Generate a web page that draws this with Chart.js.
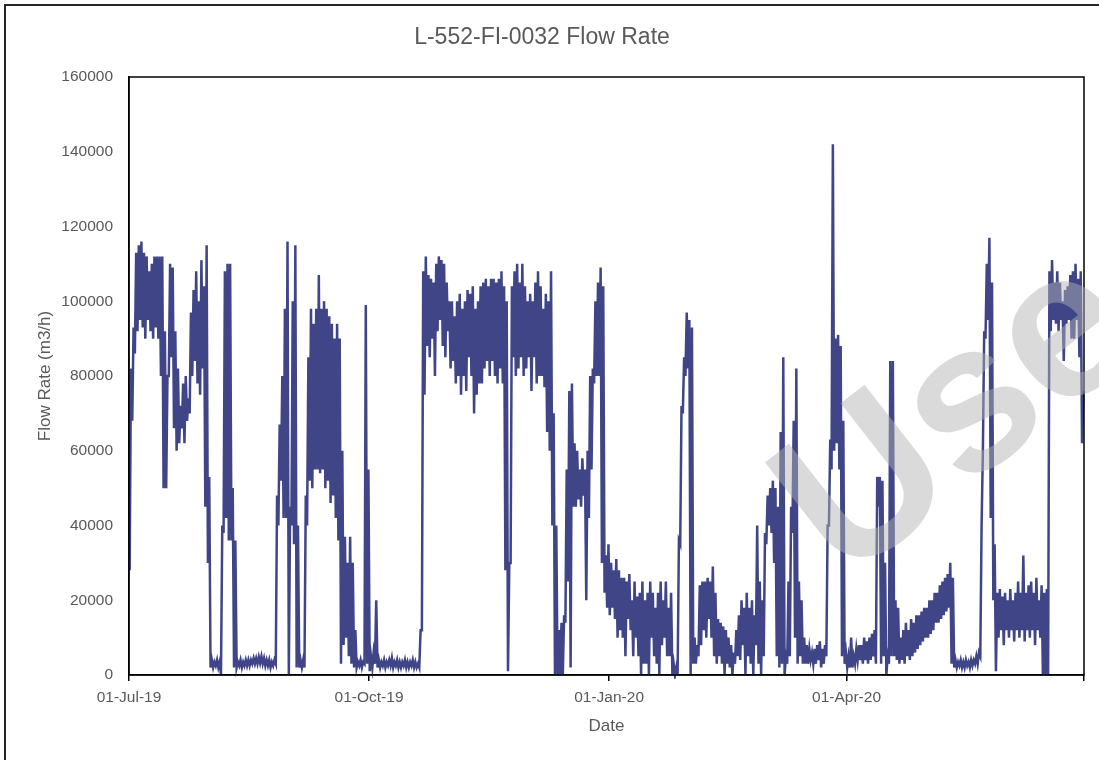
<!DOCTYPE html>
<html>
<head>
<meta charset="utf-8">
<title>L-552-FI-0032 Flow Rate</title>
<script src="https://cdn.jsdelivr.net/npm/chart.js@4.4.1/dist/chart.umd.min.js"></script>
<style>
  html, body { margin: 0; padding: 0; background: #fff; }
  #flowChart { display: block; }
</style>
</head>
<body>
<canvas id="flowChart" width="1099" height="760"></canvas>
<script>
// x axis: days since 01-Jul-19
const tickDays = [0, 92, 184, 275, 366];
const tickLabels = ['01-Jul-19', '01-Oct-19', '01-Jan-20', '01-Apr-20', ''];
const yTicks = [0, 20000, 40000, 60000, 80000, 100000, 120000, 140000, 160000];

// daily low / high readings (m3/h), day 0 = 01-Jul-19
const dailyLow = [
  28000, 68000, 86000, 92000, 95000, 93000, 90000, 95000, 92000, 90000,   // 0
  93000, 90000, 80000, 50000, 50000, 80000, 85000, 66000, 60000, 62000,   // 10
  66000, 62000, 68000, 70000, 80000, 84000, 78000, 75000, 82000, 45000,   // 20
  30000, 2000, 2000, 2500, 2000, 0, 38000, 42000, 36000, 36000,           // 30
  2000, 2000, 2500, 2000, 2500, 2500, 2500, 3000, 3000, 3000,             // 40
  3200, 3000, 2500, 2500, 2000, 2500, 3000, 40000, 52000, 42000,          // 50
  42000, 0, 40000, 35000, 2000, 2000, 2000, 2000, 40000, 52000,           // 60
  50000, 55000, 55000, 54000, 55000, 50000, 52000, 46000, 48000, 42000,   // 70
  36000, 3000, 8000, 10000, 5000, 3000, 2000, 2000, 2500, 2000,           // 80
  3000, 3000, 1000, 2000, 3000, 2000, 2000, 2500, 2000, 2500,             // 90
  2500, 2000, 2500, 2000, 2000, 2500, 2000, 2000, 2500, 2000,             // 100
  2000, 2000, 12000, 75000, 88000, 85000, 90000, 80000, 92000, 95000,     // 110
  88000, 85000, 92000, 82000, 84000, 78000, 80000, 75000, 80000, 76000,   // 120
  85000, 80000, 70000, 75000, 78000, 78000, 82000, 84000, 80000, 84000,   // 130
  80000, 78000, 82000, 78000, 28000, 1000, 30000, 85000, 80000, 82000,    // 140
  85000, 80000, 82000, 85000, 76000, 85000, 78000, 80000, 80000, 77000,   // 150
  65000, 60000, 40000, 0, 0, 0, 0, 14000, 25000, 2000,                    // 160
  45000, 45000, 47000, 45000, 48000, 20000, 42000, 55000, 78000, 80000,   // 170
  80000, 30000, 22000, 18000, 16000, 18000, 15000, 10000, 12000, 10000,   // 180
  5000, 15000, 12000, 5000, 10000, 5000, 0, 3000, 3000, 0,                // 190
  10000, 5000, 3000, 0, 8000, 10000, 5000, 5000, 0, 0,                    // 200
  0, 35000, 70000, 80000, 82000, 0, 3000, 3000, 5000, 8000,               // 210
  12000, 10000, 15000, 10000, 5000, 3000, 5000, 3000, 0, 3000,            // 220
  2000, 0, 3000, 5000, 4000, 8000, 0, 5000, 3000, 0,                      // 230
  8000, 3000, 0, 5000, 35000, 40000, 38000, 30000, 5000, 2000,            // 240
  3000, 0, 3000, 5000, 38000, 10000, 3000, 5000, 3000, 3000,              // 250
  3000, 4000, 3000, 3000, 4000, 2000, 3000, 5000, 40000, 55000,           // 260
  60000, 62000, 55000, 5000, 3000, 2000, 2000, 2000, 3000, 4000,          // 270
  4000, 3000, 4000, 3000, 4000, 5000, 3000, 45000, 3000, 5000,            // 280
  0, 3000, 5000, 5000, 4000, 3000, 4000, 3000, 5000, 4000,                // 290
  5000, 6000, 7000, 8000, 9000, 10000, 10000, 11000, 12000, 14000,        // 300
  14000, 15000, 16000, 17000, 18000, 3000, 2000, 2000, 2500, 2000,        // 310
  2000, 2500, 2000, 2500, 3000, 3000, 5000, 60000, 90000, 95000,          // 320
  42000, 20000, 1000, 10000, 12000, 8000, 12000, 10000, 12000, 9000,      // 330
  12000, 10000, 12000, 9000, 12000, 10000, 12000, 8000, 12000, 10000,     // 340
  0, 0, 0, 92000, 95000, 94000, 92000, 95000, 84000, 94000,               // 350
  95000, 90000, 90000, 95000, 85000, 62000                                // 360
];

const dailyHigh = [
  82000, 93000, 113000, 115000, 116000, 113000, 112000, 108000, 110000, 112000,   // 0
  112000, 112000, 112000, 92000, 80000, 110000, 109000, 92000, 82000, 72000,      // 10
  78000, 80000, 74000, 97000, 103000, 108000, 100000, 111000, 104000, 115000,     // 20
  53000, 4000, 3500, 4000, 3500, 40000, 108000, 110000, 110000, 50000,            // 30
  36000, 3500, 4000, 3500, 4000, 4000, 4000, 4500, 4500, 4800,                    // 40
  5000, 4500, 4000, 4000, 3500, 4000, 48000, 67000, 80000, 98000,                 // 50
  116000, 45000, 100000, 115000, 40000, 4000, 4000, 48000, 85000, 98000,          // 60
  94000, 98000, 107000, 98000, 100000, 98000, 96000, 94000, 90000, 94000,         // 70
  90000, 60000, 37000, 30000, 37000, 30000, 12000, 3500, 4000, 3500,              // 80
  99000, 55000, 5000, 6000, 20000, 4000, 3500, 4000, 3500, 4000,                  // 90
  4500, 3500, 4000, 3500, 3500, 4000, 3500, 3500, 4000, 3500,                     // 100
  3000, 12000, 108000, 112000, 107000, 106000, 105000, 110000, 112000, 111000,    // 110
  110000, 105000, 100000, 100000, 96000, 100000, 102000, 98000, 100000, 103000,   // 120
  102000, 104000, 98000, 100000, 104000, 105000, 106000, 104000, 106000, 106000,  // 130
  105000, 106000, 108000, 104000, 100000, 30000, 104000, 108000, 110000, 105000,  // 140
  110000, 104000, 100000, 102000, 100000, 105000, 108000, 104000, 98000, 102000,  // 150
  100000, 108000, 70000, 40000, 12000, 14000, 16000, 55000, 76000, 78000,         // 160
  62000, 60000, 55000, 58000, 55000, 60000, 80000, 82000, 100000, 105000,         // 170
  109000, 104000, 32000, 35000, 30000, 28000, 31000, 28000, 26000, 26000,         // 180
  25000, 27000, 20000, 25000, 21000, 22000, 25000, 20000, 22000, 25000,           // 190
  22000, 18000, 22000, 25000, 20000, 25000, 18000, 22000, 3000, 2000,             // 200
  36000, 72000, 85000, 97000, 95000, 93000, 10000, 8000, 24000, 25000,            // 210
  25000, 26000, 25000, 29000, 22000, 15000, 14000, 13000, 12000, 10000,           // 220
  8000, 6000, 12000, 16000, 20000, 18000, 22000, 18000, 20000, 16000,             // 230
  40000, 25000, 20000, 38000, 48000, 50000, 52000, 50000, 45000, 65000,           // 240
  85000, 5000, 25000, 45000, 68000, 82000, 25000, 20000, 10000, 8000,             // 250
  7000, 6000, 7000, 8000, 9000, 7000, 8000, 40000, 63000, 142000,                 // 260
  90000, 91000, 88000, 68000, 6000, 5000, 10000, 5000, 7000, 8000,                // 270
  8000, 10000, 9000, 10000, 11000, 12000, 53000, 53000, 52000, 30000,             // 280
  5000, 84000, 84000, 20000, 18000, 10000, 12000, 14000, 12000, 15000,            // 290
  14000, 16000, 16000, 17000, 18000, 18000, 20000, 20000, 22000, 22000,           // 300
  24000, 25000, 26000, 27000, 30000, 26000, 4000, 3500, 4000, 3500,               // 310
  4000, 3500, 4000, 4000, 5000, 6000, 40000, 92000, 110000, 117000,               // 320
  105000, 35000, 22000, 23000, 21000, 22000, 20000, 23000, 20000, 22000,          // 330
  25000, 22000, 32000, 22000, 24000, 25000, 22000, 26000, 20000, 24000,           // 340
  22000, 23000, 108000, 111000, 105000, 108000, 105000, 100000, 103000, 104000,   // 350
  107000, 108000, 110000, 106000, 108000, 76000                                   // 360
];

const LINE_COLOR = '#3f4587';
const TEXT_COLOR = '#595959';
const FONT = '"Liberation Sans", Arial, sans-serif';

// each day: low reading then high reading
const points = [];
dailyLow.forEach((lo, d) => {
    points.push({ x: d + 0.25, y: lo });
    points.push({ x: d + 0.75, y: dailyHigh[d] });
});

// white background, outer chart frame and plot box
const framePlugin = {
    id: 'frame',
    beforeDraw(chart) {
        const c = chart.ctx;
        c.save();
        c.fillStyle = '#fff';
        c.fillRect(0, 0, chart.width, chart.height);
        c.strokeStyle = '#262626';
        c.lineWidth = 2;
        c.strokeRect(5, 5, chart.width + 20, chart.height + 20);
        c.restore();
    },
    afterDatasetsDraw(chart) {
        const a = chart.chartArea;
        const c = chart.ctx;
        c.save();
        c.strokeStyle = '#000';
        c.lineWidth = 1.5;
        c.beginPath();
        c.moveTo(a.left, a.bottom);
        c.lineTo(a.left, a.top);
        c.lineTo(a.right, a.top);
        c.lineTo(a.right, a.bottom);
        c.lineTo(a.left, a.bottom);
        c.stroke();
        c.restore();
    }
};

// light grey "Use" stamp across the chart
const watermarkPlugin = {
    id: 'watermark',
    afterDraw(chart) {
        const c = chart.ctx;
        c.save();
        c.translate(844, 584);
        c.rotate(-38 * Math.PI / 180);
        c.font = 'bold 210px ' + FONT;
        c.fillStyle = 'rgba(178,178,178,0.48)';
        c.textBaseline = 'alphabetic';
        c.textAlign = 'left';
        c.fillText('Use', 0, 0);
        c.restore();
    }
};

const ctx = document.getElementById('flowChart');
new Chart(ctx, {
    type: 'line',
    data: {
        datasets: [{
            label: 'Flow Rate',
            data: points,
            borderColor: LINE_COLOR,
            borderWidth: 2.5,
            pointRadius: 0,
            tension: 0,
            fill: false,
            clip: { left: 3, top: 3, right: 3, bottom: 4 }
        }]
    },
    options: {
        responsive: false,
        animation: false,
        layout: { padding: { top: 0, right: 15, bottom: 0, left: 0 } },
        plugins: {
            legend: { display: false },
            tooltip: { enabled: false },
            title: {
                display: true,
                text: 'L-552-FI-0032 Flow Rate',
                color: TEXT_COLOR,
                font: { family: FONT, size: 23, weight: 'normal' },
                padding: { top: 24, bottom: 25.4 }
            }
        },
        scales: {
            x: {
                type: 'linear',
                min: 0,
                max: 366,
                afterBuildTicks: scale => {
                    scale.ticks = tickDays.map(v => ({ value: v }));
                },
                afterFit: scale => { scale.height = 85; },
                ticks: {
                    autoSkip: false,
                    maxRotation: 0,
                    padding: 7,
                    color: TEXT_COLOR,
                    font: { family: FONT, size: 15.5 },
                    callback: value => tickLabels[tickDays.indexOf(value)] || ''
                },
                grid: {
                    display: true,
                    drawOnChartArea: false,
                    drawTicks: true,
                    tickLength: 6,
                    color: '#000',
                    lineWidth: 1.5
                },
                border: { display: true, color: '#000', width: 1.5 },
                title: {
                    display: true,
                    text: 'Date',
                    color: TEXT_COLOR,
                    font: { family: FONT, size: 17 },
                    padding: { top: 0, bottom: 23 }
                }
            },
            y: {
                min: 0,
                max: 160000,
                afterBuildTicks: scale => {
                    scale.ticks = yTicks.map(v => ({ value: v }));
                },
                afterFit: scale => { scale.width = 129; },
                ticks: {
                    padding: 16,
                    color: TEXT_COLOR,
                    font: { family: FONT, size: 15.5 },
                    callback: value => String(value)
                },
                grid: { display: false, drawTicks: false },
                border: { display: true, color: '#000', width: 1.5 },
                title: {
                    display: true,
                    text: 'Flow Rate (m3/h)',
                    color: TEXT_COLOR,
                    font: { family: FONT, size: 17 },
                    padding: { top: 35, bottom: 0 }
                }
            }
        }
    },
    plugins: [framePlugin, watermarkPlugin]
});
</script>
</body>
</html>
